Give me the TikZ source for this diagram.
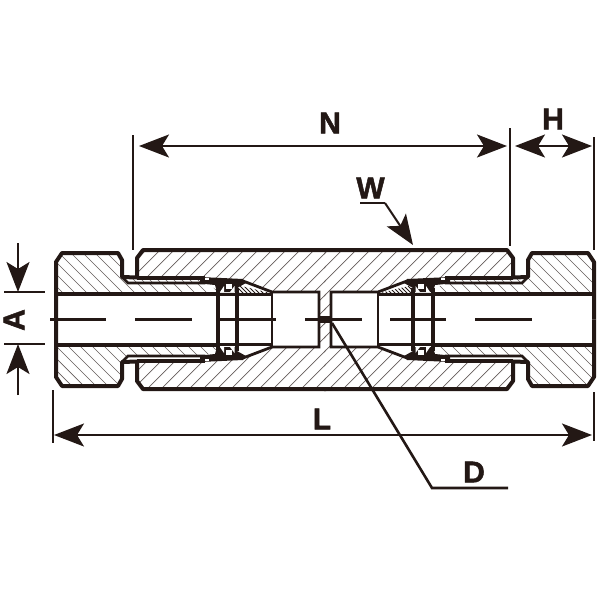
\documentclass[tikz,border=0pt]{standalone}
\usepackage{fontspec}
\setmainfont{Liberation Sans}
\newfontfamily\lblfont[BoldFeatures={FakeBold=1.6}]{Liberation Sans}
\usetikzlibrary{arrows.meta}
\definecolor{ink}{HTML}{231815}
\tikzset{%
  lbl/.style={font=\lblfont\bfseries\fontsize{30}{30}\selectfont,text=ink,inner sep=0pt},%
  thick1/.style={draw=ink,line width=4pt,line join=round},%
  thick2/.style={draw=ink,line width=2.8pt,line join=miter},%
  hatch/.style={draw=ink!70,line width=0.7pt},%
  dim/.style={draw=ink,line width=2pt},%
  ext/.style={draw=ink,line width=2.8pt},%
  axis/.style={draw=ink,line width=2.4pt},%
  tip/.style={{Stealth[length=30pt,width=23pt,inset=7pt]}-{Stealth[length=30pt,width=23pt,inset=7pt]}},%
  endtip/.style={-{Stealth[length=30pt,width=23pt,inset=7pt]}},%
  mirror/.style 2 args={shift={(325,319.5)},xscale=#1,yscale=#2,shift={(-325,-319.5)}}}
\begin{document}
\begin{tikzpicture}[x=1pt,y=-1pt]
  \useasboundingbox (0,0) rectangle (600,600);
  \fill[white] (0,0) rectangle (600,600);
  \foreach \sx/\sy in {1/1,-1/1,1/-1,-1/-1}{%
    \begin{scope}[mirror={\sx}{\sy}]
      % nut hatch
      \begin{scope}
        \clip (56,262) -- (62,253) -- (118,253) -- (122,260) -- (122,277) -- (128,283)
          -- (205,283) -- (217,290) -- (217,294) -- (56,294) -- cycle;
        \begin{scope}[reset cm]
          \foreach \c in {-180,-168,...,560} \draw[hatch] (\c,230) -- (\c+180,410);
        \end{scope}
      \end{scope}
      % body hatch
      \begin{scope}
        \clip (137,278) -- (137,258) -- (143,250) -- (326,250) -- (326,316) -- (319,316)
          -- (319,292) -- (272,292) -- (243,281) -- (137,278) -- cycle;
        \begin{scope}[reset cm]
          \foreach \c in {100,114,...,720} \draw[hatch] (\c,240) -- (\c-160,400);
        \end{scope}
      \end{scope}
      % thin strip of the tube
      \begin{scope}
        \clip (128,279) rectangle (205,283);
        \begin{scope}[reset cm]
          \foreach \c in {-300,-292,...,600} \draw[hatch] (\c,270) -- (\c+60,330);
        \end{scope}
      \end{scope}
      % ferrule
      \begin{scope}
        \clip (237,285) -- (270,293) -- (237,294) -- cycle;
        \begin{scope}[reset cm]
          \foreach \c in {-300,-296,...,600} \draw[ink,line width=0.9pt] (\c,270) -- (\c+60,330);
        \end{scope}
      \end{scope}
      \fill[ink] (200,277) -- (243,279) -- (246,283) -- (237,288) -- (237,292) -- (217,292)
        -- (215,285) -- (200,283.5) -- cycle;
      \fill[white] (226,284) rectangle (232,289);
      \fill[white] (203,278.2) rectangle (209,280);
      \fill[white] (220,292) -- (224,286) -- (224,292) -- cycle;
      \fill[white] (234.5,292) -- (234.5,286) -- (230,292) -- cycle;
      % outline
      \draw[thick1] (56,319.5) -- (56,262) -- (62,253) -- (118,253) -- (122,260) -- (122,277)
        -- (137,277.5) -- (137,258) -- (143,250) -- (326,250);
      \draw[thick1] (137,278) -- (205,278);
      \draw[thick2] (122,277) -- (128,283) -- (205,283);
      \draw[thick1] (57,294) -- (217,294);
      \draw[thick1] (217.5,288) -- (217.5,319.5);
      \draw[thick1] (237,288) -- (237,319.5);
      \draw[thick2] (217,294.5) -- (272,294.5);
      \draw[thick2] (243,281) -- (272,292) -- (319,292) -- (319,319.5);
      \draw[thick2] (272,292) -- (272,319.5);
    \end{scope}
  }
  \fill[ink] (319,316) rectangle (331,323);
  \foreach \a/\b in {50/106,135/192,220/276,305/362,390/446,475/532}
    \draw[axis] (\a,319.5) -- (\b,319.5);
  % dimensions
  \coordinate (n0) at (133,135); \coordinate (n1) at (133,250);
  \coordinate (m0) at (510,128); \coordinate (m1) at (510,246);
  \coordinate (h0) at (594,137); \coordinate (h1) at (594,250);
  \coordinate (na) at (139,146); \coordinate (nb) at (507,146);
  \coordinate (ha) at (515,146); \coordinate (hb) at (592,146);
  \coordinate (la) at (54,435); \coordinate (lb) at (592,435);
  \coordinate (l0) at (53,390); \coordinate (l1) at (53,443);
  \coordinate (r0) at (594,392); \coordinate (r1) at (594,441);
  \coordinate (a0) at (4,292); \coordinate (a1) at (45,292);
  \coordinate (b0) at (4,344); \coordinate (b1) at (45,344);
  \coordinate (ta) at (18,243); \coordinate (tb) at (18,292);
  \coordinate (ua) at (18,395); \coordinate (ub) at (18,344);
  \coordinate (wa) at (360,203); \coordinate (wb) at (385,203); \coordinate (wc) at (413,245);
  \coordinate (da) at (332,323); \coordinate (db) at (432,488); \coordinate (dc) at (508,488);
  \foreach \p/\q in {n0/n1,m0/m1,h0/h1,l0/l1,r0/r1,a0/a1,b0/b1} \draw[ext] (\p) -- (\q);
  \draw[dim,tip] (na) -- (nb);
  \draw[dim,tip] (ha) -- (hb);
  \draw[dim,tip] (la) -- (lb);
  \draw[dim,endtip] (ta) -- (tb);
  \draw[dim,endtip] (ua) -- (ub);
  \draw[dim,line width=2.8pt] (wa) -- (wb);
  \draw[dim,endtip] (wb) -- (wc);
  \draw[dim,line width=2.6pt] (da) -- (db) -- (dc);
  % labels
  \node[lbl] (lbn) at (330,123) {N};
  \node[lbl] (lbh) at (553,119) {H};
  \node[lbl] (lbw) at (370.5,188) {W};
  \node[lbl] (lbl) at (322,419) {L};
  \node[lbl] (lbd) at (474,472) {D};
  \node[lbl,rotate=90] (lba) at (14,320) {A};
\end{tikzpicture}
\end{document}
